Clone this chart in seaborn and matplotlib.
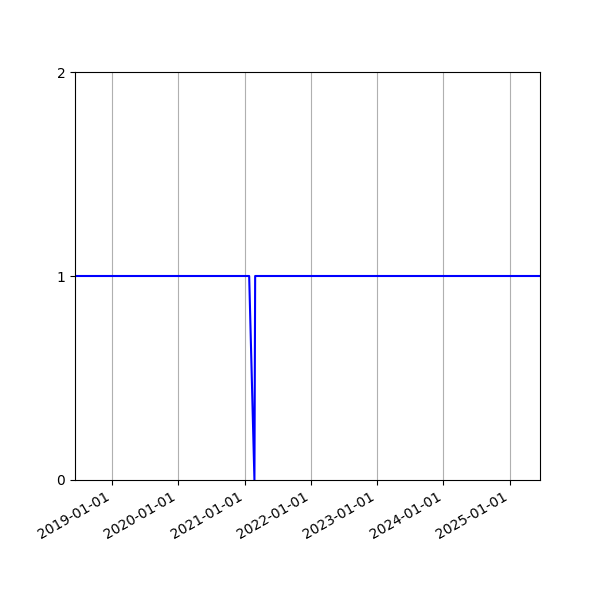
import pandas as pd
import matplotlib
matplotlib.use('Agg')
import matplotlib.pyplot as plt
import matplotlib.dates as mdates
import seaborn as sns

# status series (1 = up, 0 = down)
dates = ['2018-06-11', '2021-01-26', '2021-02-24', '2021-02-28', '2025-06-17']
status = [1, 1, 0, 1, 1]

df = pd.DataFrame({'date': pd.to_datetime(dates), 'status': status})

fig, ax = plt.subplots(figsize=(6, 6), dpi=100)
sns.lineplot(data=df, x='date', y='status', color='blue', linewidth=1.5, ax=ax)

ax.set_xlim(df['date'].min(), df['date'].max())
ax.set_ylim(0, 2)
ax.set_yticks([0, 1, 2])
ax.xaxis.set_major_locator(mdates.YearLocator())
ax.xaxis.set_major_formatter(mdates.DateFormatter('%Y-%m-%d'))
ax.grid(axis='x')
ax.set_xlabel('')
ax.set_ylabel('')
fig.autofmt_xdate()
fig.subplots_adjust(left=0.125, right=0.9, top=0.88, bottom=0.2)

plt.savefig('out.png', dpi=100)
plt.close()
